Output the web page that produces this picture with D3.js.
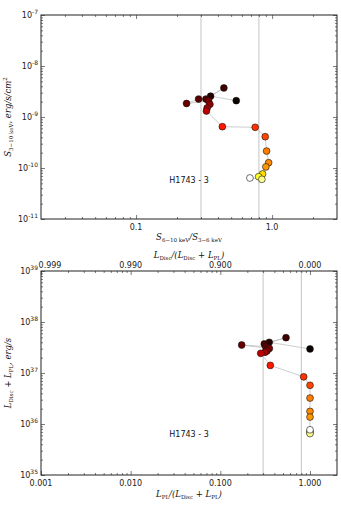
<!DOCTYPE html>
<html>
<head>
<meta charset="utf-8">
<script src="https://d3js.org/d3.v7.min.js"></script>
<style>
  body { margin: 0; background: #fff; }
  text { font-family: "DejaVu Sans", sans-serif; }
  .lbl { font-family: "DejaVu Serif", serif; font-style: italic; }
</style>
</head>
<body>
<div id="chart"></div>
<script>
// observations in time order (colour = time through the "hot" map)
var timeFrac = [0, 0.04, 0.08, 0.10, 0.12, 0.14, 0.17, 0.20, 0.23, 0.27,
                0.40, 0.44, 0.47, 0.55, 0.57, 0.59, 0.70, 0.79, 0.89, 1.0];
// top panel: hardness ratio and 3-10 keV flux
var hardness = [0.545, 0.353, 0.442, 0.326, 0.288, 0.235, 0.341, 0.349, 0.333, 0.329,
                0.431, 0.751, 0.89, 0.911, 0.943, 0.90, 0.851, 0.796, 0.841, 0.687];
var flux = [2.09e-9, 2.56e-9, 3.71e-9, 2.25e-9, 2.25e-9, 1.84e-9, 2.06e-9, 1.77e-9, 1.50e-9, 1.31e-9,
            6.45e-10, 6.28e-10, 4.11e-10, 2.15e-10, 1.27e-10, 1.05e-10, 7.63e-11, 6.76e-11, 6.0e-11, 6.37e-11];
// bottom panel: power-law fraction and total luminosity
var plFrac = [1.0, 0.351, 0.54, 0.309, 0.32, 0.173, 0.352, 0.331, 0.315, 0.282,
              0.361, 0.85, 1.0, 1.0, 1.0, 1.0, 1.0, 1.0, 1.0, 1.0];
var lum = [2.96e37, 4.0e37, 4.92e37, 3.71e37, 3.3e37, 3.54e37, 3.02e37, 2.70e37, 2.55e37, 2.43e37,
           1.41e37, 8.41e36, 5.74e36, 3.23e36, 1.77e36, 1.37e36, 7.1e35, 6.8e35, 6.5e35, 7.7e35];
var openPoint = 19;   // last observation drawn as open circle
var topVlines = [0.3, 0.8];
var botVlines = [0.3, 0.8];
var topXTicks = [0.1, 1.0], topXLabels = ["0.1", "1.0"];
var topYTicks = [-11, -10, -9, -8, -7];
var botXTicks = [0.001, 0.01, 0.1, 1.0], botXLabels = ["0.001", "0.010", "0.100", "1.000"];
var botX2Labels = ["0.999", "0.990", "0.900", "0.000"];
var botYTicks = [35, 36, 37, 38, 39];
var sourceName = "H1743 - 3";

var svg = d3.select("#chart").append("svg")
  .attr("width", 341).attr("height", 511);

// matplotlib "hot"
function hot(t) {
  var r = Math.min(1, 0.0416 + t / 0.365 * 0.9584);
  var g = Math.max(0, Math.min(1, (t - 0.365) / 0.381));
  var b = Math.max(0, Math.min(1, (t - 0.746) / 0.254));
  return d3.rgb(r * 255, g * 255, b * 255).toString();
}

function minors(lo, hi) {
  var out = [];
  for (var e = Math.floor(Math.log10(lo)); e <= Math.ceil(Math.log10(hi)); e++) {
    for (var k = 2; k <= 9; k++) {
      var v = k * Math.pow(10, e);
      if (v > lo && v < hi) out.push(v);
    }
  }
  return out;
}

function panel(cfg) {
  var x = d3.scaleLog().domain(cfg.xDom).range([41, 337]);
  var y = d3.scaleLog().domain(cfg.yDom).range([cfg.bottom, cfg.top]);
  var g = svg.append("g");

  // reference lines
  g.selectAll("line.vl").data(cfg.vlines).enter().append("line")
    .attr("x1", d => x(d)).attr("x2", d => x(d))
    .attr("y1", cfg.top).attr("y2", cfg.bottom)
    .attr("stroke", "#c4c4c4").attr("stroke-width", 1);

  // ticks on all four sides, pointing in
  var xMin = minors(cfg.xDom[0], cfg.xDom[1]);
  var yMin = minors(cfg.yDom[0], cfg.yDom[1]);
  var yMaj = cfg.yTicks.map(e => Math.pow(10, e));
  function addAxis(axisFn, scale, vals, size, tr) {
    var a = g.append("g").attr("transform", tr)
      .call(axisFn(scale).tickValues(vals).tickSize(size).tickFormat(""));
    a.select(".domain").remove();
    a.selectAll("line").attr("stroke", "#222").attr("stroke-width", 0.6);
  }
  addAxis(d3.axisTop, x, cfg.xTicks, 4, `translate(0,${cfg.bottom})`);
  addAxis(d3.axisTop, x, xMin, 2, `translate(0,${cfg.bottom})`);
  addAxis(d3.axisBottom, x, cfg.xTicks, 4, `translate(0,${cfg.top})`);
  addAxis(d3.axisBottom, x, xMin, 2, `translate(0,${cfg.top})`);
  addAxis(d3.axisRight, y, yMaj, 4, "translate(41,0)");
  addAxis(d3.axisRight, y, yMin, 2, "translate(41,0)");
  addAxis(d3.axisLeft, y, yMaj, 4, "translate(337,0)");
  addAxis(d3.axisLeft, y, yMin, 2, "translate(337,0)");

  g.append("rect")
    .attr("x", 41).attr("y", cfg.top)
    .attr("width", 296).attr("height", cfg.bottom - cfg.top)
    .attr("fill", "none").attr("stroke", "#222").attr("stroke-width", 1);

  // tick labels
  g.selectAll("text.xt").data(cfg.xTicks).enter().append("text")
    .attr("x", d => x(d)).attr("y", cfg.bottom + 11)
    .attr("text-anchor", "middle").attr("font-size", 8).attr("fill", "#222")
    .text((d, i) => cfg.xLabels[i]);
  if (cfg.x2Labels) {
    g.selectAll("text.xt2").data(cfg.xTicks).enter().append("text")
      .attr("x", (d, i) => x(d) + (i === 0 ? 9 : 0)).attr("y", cfg.top - 3)
      .attr("text-anchor", "middle").attr("font-size", 8).attr("fill", "#222")
      .text((d, i) => cfg.x2Labels[i]);
  }
  var yl = g.selectAll("text.yt").data(cfg.yTicks).enter().append("text")
    .attr("x", 38).attr("y", d => y(Math.pow(10, d)) + 3)
    .attr("text-anchor", "end").attr("font-size", 8).attr("fill", "#222");
  yl.append("tspan").text("10");
  yl.append("tspan").attr("dy", -4).attr("font-size", 6).text(d => d);

  // connecting line and points
  var pts = cfg.xs.map((v, i) => ({x: v, y: cfg.ys[i], t: timeFrac[i], i: i}));
  g.append("path")
    .datum(pts)
    .attr("fill", "none").attr("stroke", "#b8b8b8").attr("stroke-width", 0.7)
    .attr("d", d3.line().x(d => x(d.x)).y(d => y(d.y)));

  g.selectAll("circle.pt").data(pts).enter().append("circle")
    .attr("cx", d => x(d.x)).attr("cy", d => y(d.y))
    .attr("r", 3.4)
    .attr("fill", d => d.i === openPoint ? "#fff" : hot(d.t))
    .attr("stroke", "#111").attr("stroke-width", 0.6);

  g.append("text")
    .attr("x", 189).attr("y", cfg.nameY)
    .attr("text-anchor", "middle").attr("font-size", 8).attr("fill", "#111")
    .text(sourceName);
  return g;
}

panel({xDom: [0.02, 3], yDom: [1e-11, 1e-7], top: 15, bottom: 219,
  xs: hardness, ys: flux, vlines: topVlines,
  xTicks: topXTicks, xLabels: topXLabels, yTicks: topYTicks, nameY: 183});

panel({xDom: [0.001, 2], yDom: [1e35, 1e39], top: 271, bottom: 475,
  xs: plFrac, ys: lum, vlines: botVlines,
  xTicks: botXTicks, xLabels: botXLabels, x2Labels: botX2Labels, yTicks: botYTicks, nameY: 437});

// axis labels (math style)
function mathLabel(x, y, rot, parts) {
  var t = svg.append("text").attr("class", "lbl")
    .attr("font-size", 8.5).attr("fill", "#111").attr("text-anchor", "middle")
    .attr("transform", `translate(${x},${y}) rotate(${rot})`);
  parts.forEach(function(p) {
    var s = t.append("tspan").text(p[0]);
    if (p[1] === "sub") s.attr("font-size", 5.5).attr("dy", 2).attr("font-style", "normal");
    else if (p[1] === "sup") s.attr("font-size", 5.5).attr("dy", -4).attr("font-style", "normal");
    else if (p[1] === "back") s.attr("dy", -2);
  });
}
mathLabel(189, 240, 0, [["S"], ["6\u221210 keV", "sub"], ["/S", "back"], ["3\u22126 keV", "sub"]]);
mathLabel(11, 117, -90, [["S"], ["3\u221210 keV", "sub"], [", erg/s/cm", "back"], ["2", "sup"]]);
mathLabel(189, 258, 0, [["L"], ["Disc", "sub"], ["/(", "back"], ["L"], ["Disc", "sub"], [" + ", "back"], ["L"], ["PL", "sub"], [")", "back"]]);
mathLabel(189, 497, 0, [["L"], ["PL", "sub"], ["/(", "back"], ["L"], ["Disc", "sub"], [" + ", "back"], ["L"], ["PL", "sub"], [")", "back"]]);
mathLabel(11, 373, -90, [["L"], ["Disc", "sub"], [" + ", "back"], ["L"], ["PL", "sub"], [", erg/s", "back"]]);
</script>
</body>
</html>
